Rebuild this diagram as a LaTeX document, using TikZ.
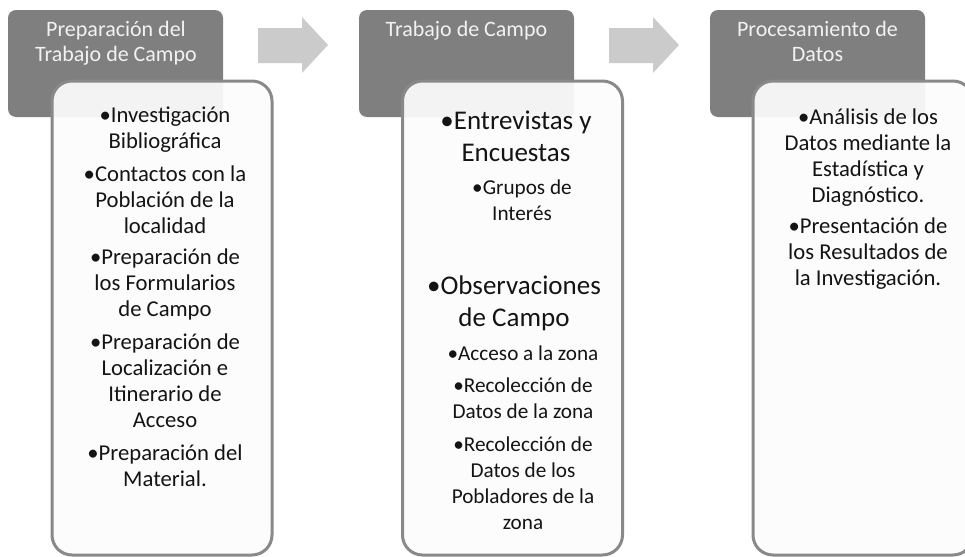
\documentclass[tikz,border=0pt]{standalone}
\usepackage{fontspec}
\setmainfont{Carlito}
\definecolor{hdrgray}{HTML}{7F7F7F}
\definecolor{boxedge}{HTML}{898989}
\definecolor{boxfill}{HTML}{FCFCFC}
\definecolor{arrowgray}{HTML}{CBCBCB}
\definecolor{hdrtext}{HTML}{F2F2F2}
\definecolor{bodytext}{HTML}{141414}
\tikzset{
  header/.style={draw=none, fill=hdrgray, rounded corners=6pt, minimum width=161.25pt, minimum height=80.25pt, inner sep=0pt},
  hdrtxt/.style={text=hdrtext, align=center, anchor=north, inner sep=0pt, font=\fontsize{16.5pt}{19pt}\selectfont},
  bodybox/.style={draw=boxedge, line width=2.25pt, fill=boxfill, fill opacity=0.93, rounded corners=15pt, minimum width=165pt, minimum height=355.5pt, inner sep=0pt},
  item/.style={text=bodytext, align=center, inner sep=0pt, font=\fontsize{17pt}{19.5pt}\selectfont},
  bigitem/.style={text=bodytext, align=center, inner sep=0pt, font=\fontsize{20.25pt}{24pt}\selectfont},
  subitem/.style={text=bodytext, align=center, inner sep=0pt, font=\fontsize{15.9pt}{19.5pt}\selectfont},
  blockarrow/.style={fill=arrowgray, draw=none}
}
\begin{document}
\begin{tikzpicture}[x=0.75pt,y=-0.75pt]
\useasboundingbox (0,0) rectangle (965,557);
\clip (0,0) rectangle (965,557);
% block arrows
\fill[blockarrow] (258,28) -- (302,28) -- (302,17) -- (328,45) -- (302,73) -- (302,63) -- (258,63) -- cycle;
\fill[blockarrow] (609,28) -- (653,28) -- (653,17) -- (679,45) -- (653,73) -- (653,63) -- (609,63) -- cycle;
% panel 1
\node[header] (h1) at (115.5,63.5) {};
\node[hdrtxt] (t1) at (116,21) {Preparación del\\Trabajo de Campo};
\node[bodybox] (b1) at (162,318) {};
\node[item] (p1a) at (165,130) {•Investigación\\Bibliográfica};
\node[item] (p1b) at (165,200) {•Contactos con la\\Población de la\\localidad};
\node[item] (p1c) at (165,284) {•Preparación de\\los Formularios\\de Campo};
\node[item] (p1d) at (165,381) {•Preparación de\\Localización e\\Itinerario de\\Acceso};
\node[item] (p1e) at (165,466) {•Preparación del\\Material.};
% panel 2
\node[header] (h2) at (466.5,63.5) {};
\node[hdrtxt] (t2) at (466.5,21) {Trabajo de Campo};
\node[bodybox] (b2) at (512.5,318) {};
\node[bigitem] (p2a) at (516,136) {•Entrevistas y\\Encuestas};
\node[subitem] (p2b) at (522,200) {•Grupos de\\Interés};
\node[bigitem] (p2c) at (514,303) {•Observaciones\\de Campo};
\node[subitem] (p2d) at (523,353) {•Acceso a la zona};
\node[subitem] (p2e) at (523,398.5) {•Recolección de\\Datos de la zona};
\node[subitem] (p2f) at (523,483) {•Recolección de\\Datos de los\\Pobladores de la\\zona};
% panel 3
\node[header] (h3) at (817.5,63.5) {};
\node[hdrtxt] (t3) at (817.5,21) {Procesamiento de\\Datos};
\node[bodybox] (b3) at (863,318) {};
\node[item] (p3a) at (868,157.5) {•Análisis de los\\Datos mediante la\\Estadística y\\Diagnóstico.};
\node[item] (p3b) at (868,253.5) {•Presentación de\\los Resultados de\\la Investigación.};
\end{tikzpicture}
\end{document}
